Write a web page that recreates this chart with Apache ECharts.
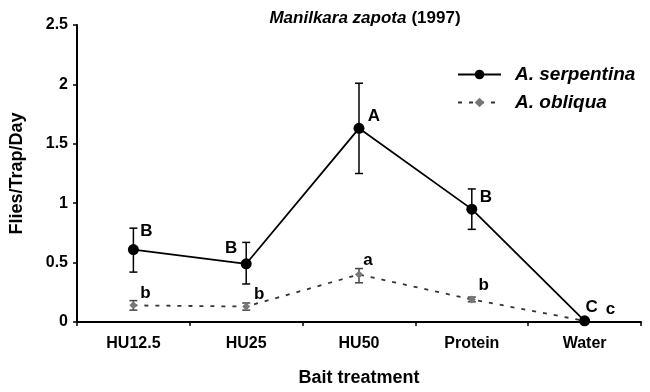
<!DOCTYPE html>
<html>
<head>
<meta charset="utf-8">
<script src="https://cdn.jsdelivr.net/npm/echarts@6/dist/echarts.min.js"></script>
<style>
  html, body { margin: 0; padding: 0; background: #fff; }
  #view1 { width: 650px; height: 392px; }
</style>
</head>
<body>
<div id="view1"></div>
<script>
var baits = ["HU12.5", "HU25", "HU50", "Protein", "Water"];
var yTicks = [0, 0.5, 1, 1.5, 2, 2.5];

// A. serpentina
var serpMean = [0.61, 0.49, 1.63, 0.95, 0.01];
var serpLow = [0.42, 0.32, 1.25, 0.78, 0.01];
var serpHigh = [0.79, 0.67, 2.01, 1.12, 0.01];
var serpLetters = ["B", "B", "A", "B", "C"];

// A. obliqua
var obliMean = [0.14, 0.13, 0.40, 0.19, 0.01];
var obliLow = [0.10, 0.10, 0.33, 0.17, 0.01];
var obliHigh = [0.18, 0.16, 0.45, 0.21, 0.01];
var obliLetters = ["b", "b", "a", "b", "c"];

var font = "'Liberation Sans', Arial, sans-serif";

// where each letter sits relative to its point (px)
var serpOffsets = [[13, -18], [-15, -15], [15, -12], [14, -12], [7, -13]];
var obliOffsets = [[12, -12], [13, -12], [9, -14], [12, -14], [26, -11]];

function errorBars(low, high, color) {
  return {
    type: "custom",
    silent: true,
    z: 1,
    data: low.map(function (v, i) { return [i, v, high[i]]; }),
    renderItem: function (params, api) {
      var x = api.value(0);
      var lo = api.coord([x, api.value(1)]);
      var hi = api.coord([x, api.value(2)]);
      var w = 4;
      var st = { stroke: color, lineWidth: 1.5 };
      return {
        type: "group",
        children: [
          { type: "line", shape: { x1: lo[0], y1: lo[1], x2: hi[0], y2: hi[1] }, style: st },
          { type: "line", shape: { x1: lo[0] - w, y1: lo[1], x2: lo[0] + w, y2: lo[1] }, style: st },
          { type: "line", shape: { x1: hi[0] - w, y1: hi[1], x2: hi[0] + w, y2: hi[1] }, style: st }
        ]
      };
    }
  };
}

function withLetters(values, letters, offsets) {
  return values.map(function (v, i) {
    return { value: v, label: { show: true, formatter: letters[i], offset: offsets[i] } };
  });
}

var letterLabel = {
  show: true,
  position: "inside",
  color: "#000",
  fontFamily: font,
  fontWeight: "bold",
  fontSize: 17
};

var option = {
  backgroundColor: "#fff",
  animation: false,
  title: {
    text: "{i|Manilkara zapota} {n|(1997)}",
    left: 360,
    textAlign: "center",
    top: 4,
    textStyle: {
      rich: {
        i: { fontFamily: font, fontSize: 17, fontWeight: "bold", fontStyle: "italic", color: "#000" },
        n: { fontFamily: font, fontSize: 17, fontWeight: "bold", color: "#000" }
      }
    }
  },
  legend: {
    left: 457,
    top: 65,
    padding: 0,
    orient: "vertical",
    itemGap: 9,
    itemWidth: 43,
    itemHeight: 12,
    textStyle: {
      fontFamily: font, fontSize: 19, fontWeight: "bold", fontStyle: "italic", color: "#000",
      padding: [0, 0, 0, 9]
    },
    data: ["A. serpentina", "A. obliqua"]
  },
  grid: { left: 73, right: 9, top: 25, bottom: 62 },
  xAxis: {
    type: "category",
    data: baits,
    boundaryGap: true,
    name: "Bait treatment",
    nameLocation: "middle",
    nameGap: 47,
    nameTextStyle: { fontFamily: font, fontSize: 18, fontWeight: "bold", color: "#000" },
    axisLine: { lineStyle: { color: "#000", width: 2 } },
    axisTick: { show: true, length: 4, lineStyle: { color: "#000", width: 1.5 } },
    axisLabel: { fontFamily: font, fontSize: 16, fontWeight: "bold", color: "#000", margin: 14 },
    splitLine: { show: false }
  },
  yAxis: {
    type: "value",
    min: yTicks[0],
    max: yTicks[yTicks.length - 1],
    interval: 0.5,
    name: "Flies/Trap/Day",
    nameLocation: "middle",
    nameGap: 51,
    nameTextStyle: { fontFamily: font, fontSize: 18, fontWeight: "bold", color: "#000" },
    axisLine: { show: true, lineStyle: { color: "#000", width: 2 } },
    axisTick: { show: true, length: 4, lineStyle: { color: "#000", width: 1.5 } },
    axisLabel: { fontFamily: font, fontSize: 16, fontWeight: "bold", color: "#000", margin: 9 },
    splitLine: { show: false }
  },
  series: [
    errorBars(serpLow, serpHigh, "#000"),
    errorBars(obliLow, obliHigh, "#444"),
    {
      name: "A. serpentina",
      type: "line",
      z: 3,
      data: withLetters(serpMean, serpLetters, serpOffsets),
      symbol: "circle",
      symbolSize: 11,
      itemStyle: { color: "#000" },
      lineStyle: { color: "#000", width: 1.8 },
      label: letterLabel
    },
    {
      name: "A. obliqua",
      type: "line",
      z: 2,
      data: withLetters(obliMean, obliLetters, obliOffsets),
      symbol: "diamond",
      symbolSize: 8,
      itemStyle: { color: "#777" },
      lineStyle: { color: "#333", width: 1.8, type: [4, 7] },
      label: letterLabel
    }
  ]
};

echarts.init(document.getElementById("view1")).setOption(option);
</script>
</body>
</html>
